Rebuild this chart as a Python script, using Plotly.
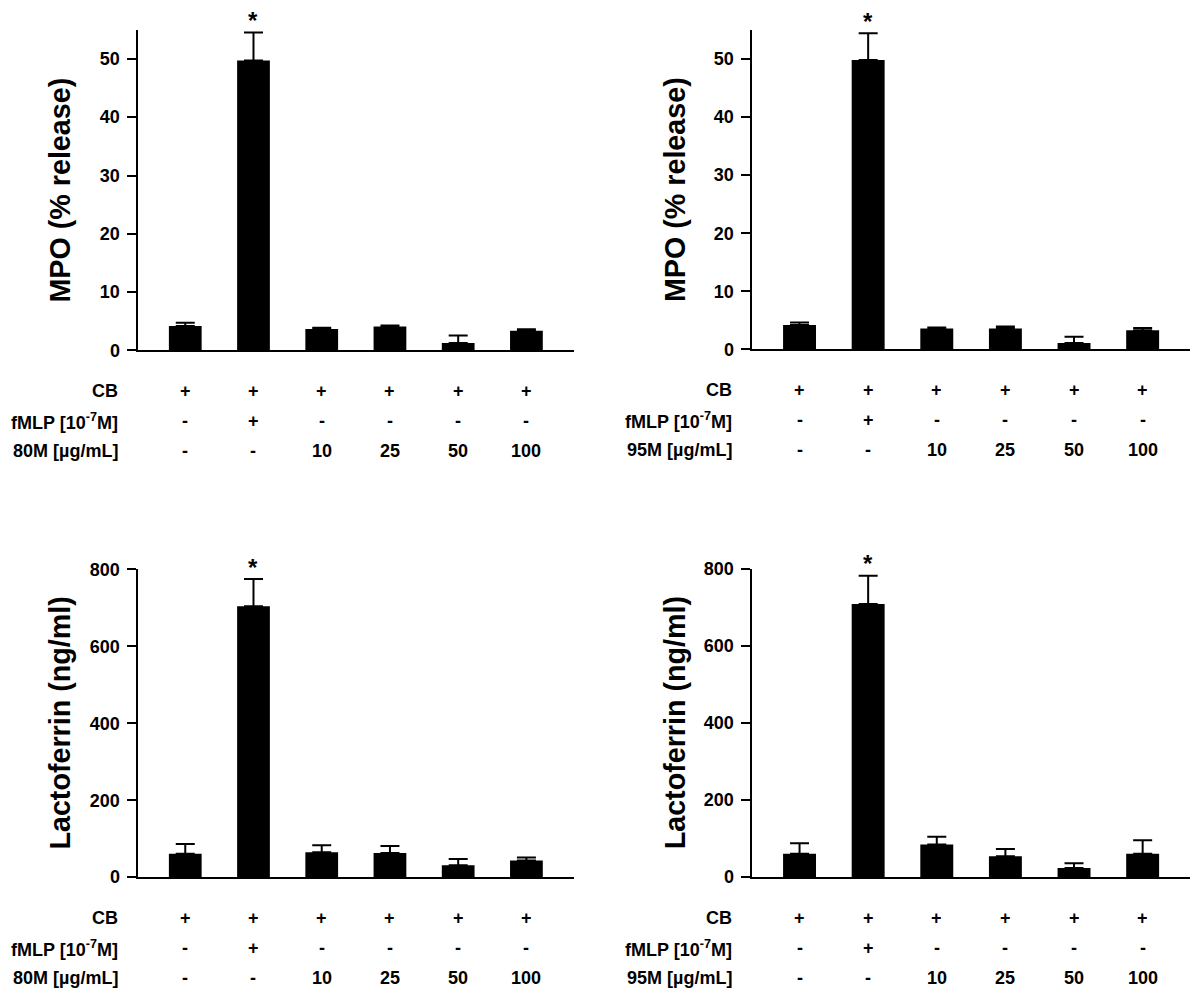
import plotly.graph_objects as go

# ---------------- data ----------------
groups = ["control", "fMLP", "10", "25", "50", "100"]

mpo_80m_mean = [4.2, 49.7, 3.7, 4.1, 1.3, 3.4]
mpo_80m_err = [0.55, 4.8, 0.2, 0.2, 1.25, 0.25]

mpo_95m_mean = [4.2, 49.8, 3.6, 3.6, 1.1, 3.3]
mpo_95m_err = [0.45, 4.6, 0.2, 0.35, 1.1, 0.4]

lf_80m_mean = [61, 704, 65, 63, 31, 43]
lf_80m_err = [25, 71, 18, 18, 16, 8]

lf_95m_mean = [61, 709, 85, 54, 24, 61]
lf_95m_err = [27, 73, 20, 19, 12, 35]

cb_row = ["+", "+", "+", "+", "+", "+"]
fmlp_row = ["-", "+", "-", "-", "-", "-"]
dose_row = ["-", "-", "10", "25", "50", "100"]

row_label_cb = "CB"
row_label_fmlp = "fMLP [10<sup>-7</sup>M]"
row_label_80m = "80M [µg/mL]"
row_label_95m = "95M [µg/mL]"

title_mpo = "MPO (% release)"
title_lf = "Lactoferrin (ng/ml)"
significance_mark = "*"
significant_group = "fMLP"

# ---------------- layout config ----------------
PAGE_OFF_X = 8                    # page offset of the figure (body margin)
PAGE_OFF_Y = 16.3
Y_SCALE = 0.9815                  # observed vertical scale of the rendered page
W, H = 1200 - 8, 1001 - 8
FONT = "Liberation Sans, Arial, Helvetica, sans-serif"

panels = [
    dict(xpx=(137.5, 573.5), ypx=(29, 350), mean=mpo_80m_mean, err=mpo_80m_err,
         yrange=(0, 55), dtick=10, title=title_mpo, agent=row_label_80m),
    dict(xpx=(751.5, 1190), ypx=(29, 349), mean=mpo_95m_mean, err=mpo_95m_err,
         yrange=(0, 55), dtick=10, title=title_mpo, agent=row_label_95m),
    dict(xpx=(137.5, 573.5), ypx=(568.7, 877), mean=lf_80m_mean, err=lf_80m_err,
         yrange=(0, 801), dtick=200, title=title_lf, agent=row_label_80m),
    dict(xpx=(751.5, 1190), ypx=(568.2, 877), mean=lf_95m_mean, err=lf_95m_err,
         yrange=(0, 801), dtick=200, title=title_lf, agent=row_label_95m),
]


def fx(p):
    return (p - PAGE_OFF_X) / W


def fy(p):
    return 1 - ((p - PAGE_OFF_Y) / Y_SCALE) / H


fig = go.Figure()
annotations = []
layout_axes = {}

for i, p in enumerate(panels, start=1):
    xs = "" if i == 1 else str(i)
    xref, yref = "x" + xs, "y" + xs
    fig.add_trace(go.Bar(
        x=groups, y=p["mean"],
        width=0.48,
        marker=dict(color="black", line=dict(width=0)),
        error_y=dict(type="data", array=p["err"], arrayminus=[0] * len(p["err"]),
                     symmetric=False, color="black", thickness=2, width=9.5),
        xaxis=xref, yaxis=yref, showlegend=False, hoverinfo="skip",
    ))
    x0, x1 = p["xpx"]
    ytop, ybot = p["ypx"]
    layout_axes["xaxis" + xs] = dict(
        domain=[fx(x0), fx(x1)], range=[-0.7, 5.69], type="category",
        showline=True, linecolor="black", linewidth=2, showticklabels=False,
        ticks="", showgrid=False, zeroline=False, anchor=yref, fixedrange=True,
    )
    layout_axes["yaxis" + xs] = dict(
        domain=[fy(ybot), fy(ytop)], range=list(p["yrange"]), tick0=0, dtick=p["dtick"],
        ticks="outside", ticklen=9, tickwidth=2, tickcolor="black",
        showline=True, linecolor="black", linewidth=2, showgrid=False, zeroline=False,
        tickfont=dict(family=FONT, size=18, color="black", weight="bold"),
        ticklabelstandoff=3,
        anchor=xref, fixedrange=True,
    )
    # axis title
    annotations.append(dict(
        text=p["title"], xref="paper", yref="paper",
        x=fx(x0 - 77), y=fy((ytop + ybot) / 2), textangle=-90,
        xanchor="center", yanchor="middle", showarrow=False,
        font=dict(family=FONT, size=28.7, color="black", weight="bold"),
    ))
    # significance asterisk
    k = groups.index(significant_group)
    annotations.append(dict(
        text=significance_mark, xref=xref, yref=yref,
        x=k, y=p["mean"][k] + p["err"][k], yshift=12,
        xanchor="center", yanchor="middle", showarrow=False,
        font=dict(family=FONT, size=24, color="black", weight="bold"),
    ))
    # treatment table
    rows = [(row_label_cb, cb_row, 40.5), (row_label_fmlp, fmlp_row, 71), (p["agent"], dose_row, 101)]
    for label, vals, off in rows:
        ypos = fy(ybot + off)
        annotations.append(dict(
            text=label, xref="paper", yref="paper", x=fx(x0 - 17.5), y=ypos,
            xanchor="right", yanchor="middle", showarrow=False,
            font=dict(family=FONT, size=18, color="black", weight="bold"),
        ))
        for j, v in enumerate(vals):
            annotations.append(dict(
                text=v, xref=xref, yref="paper", x=j, y=ypos,
                xanchor="center", yanchor="middle", showarrow=False,
                font=dict(family=FONT, size=18, color="black", weight="bold"),
            ))

fig.update_layout(
    width=W, height=H,
    margin=dict(l=0, r=0, t=0, b=0),
    paper_bgcolor="white", plot_bgcolor="white",
    annotations=annotations,
    **layout_axes,
)

fig.write_html("out.html")
